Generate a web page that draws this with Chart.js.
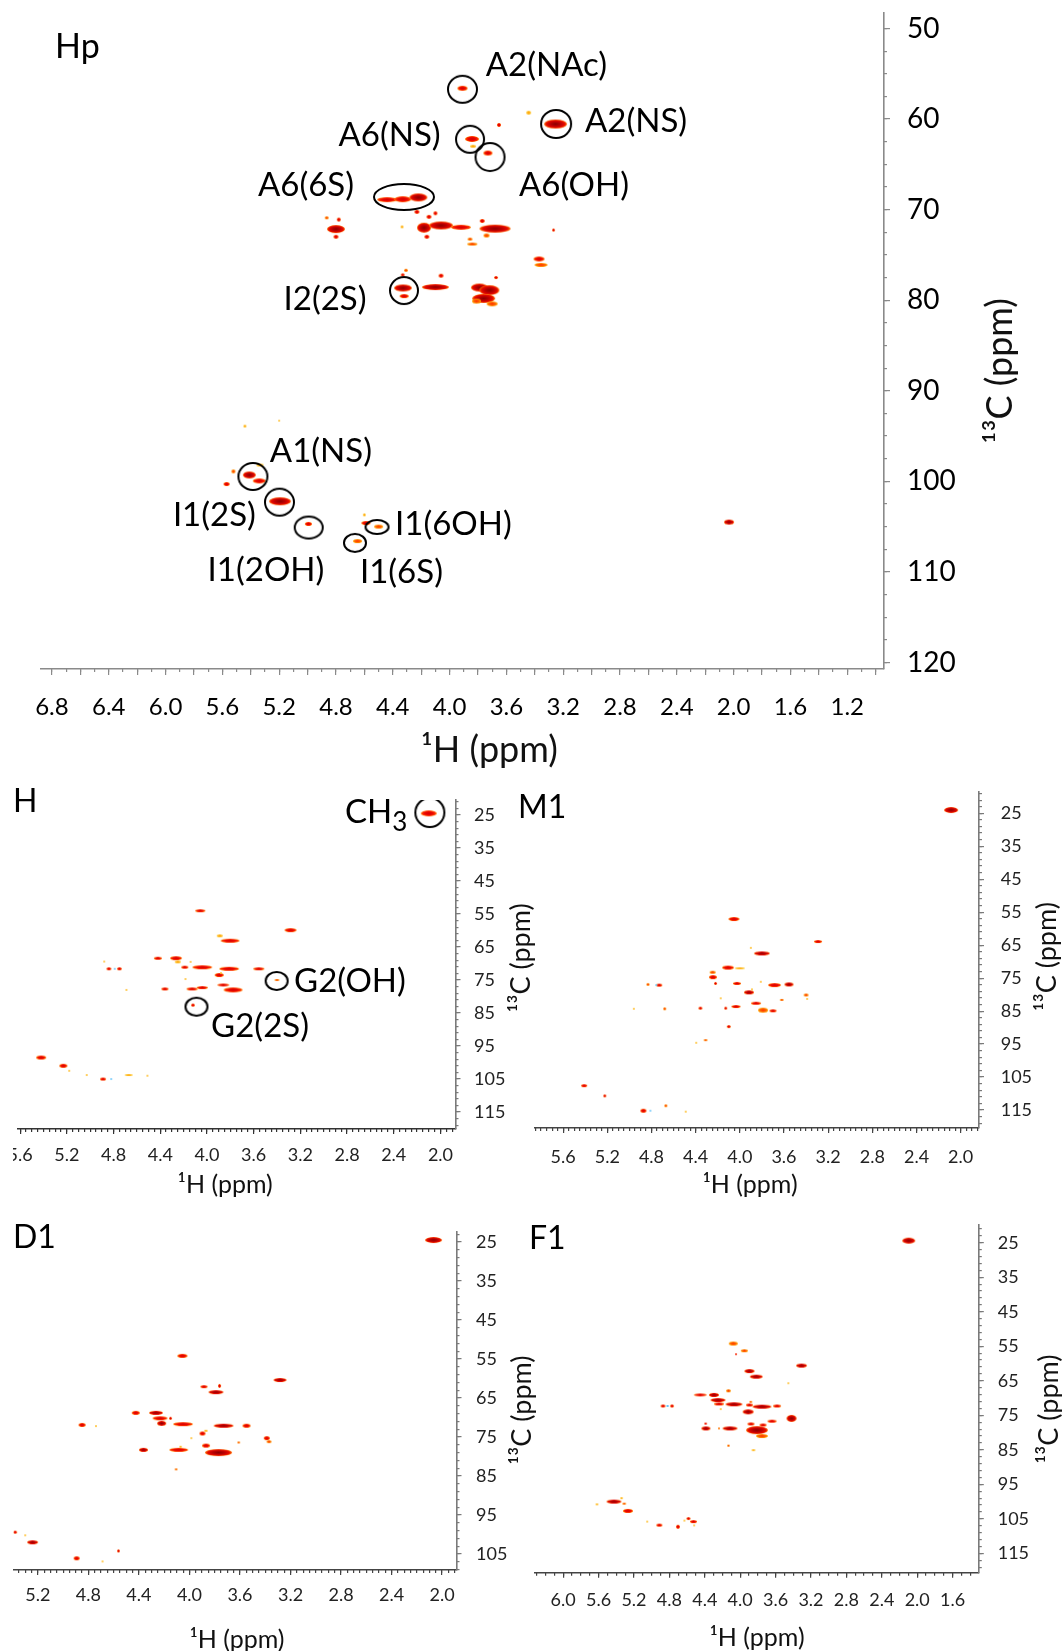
<!DOCTYPE html>
<html>
<head>
<meta charset="utf-8">
<title>HSQC spectra</title>
<script src="https://cdn.jsdelivr.net/npm/chart.js@4.4.1/dist/chart.umd.min.js"></script>
<style>
  html, body { margin: 0; padding: 0; background: #fff; }
  #fig { position: relative; width: 1062px; height: 1651px; overflow: hidden; background: #fff; }
  #fig canvas { position: absolute; }
</style>
</head>
<body>
<div id="fig">
  <canvas id="hp"></canvas>
  <canvas id="h"></canvas>
  <canvas id="m1"></canvas>
  <canvas id="d1"></canvas>
  <canvas id="f1"></canvas>
</div>
<script>
// peaks: [1H ppm, 13C ppm, 1H width ppm, 13C width ppm, level]
// level: 3 strong, 2 medium, 1 weak, 0 trace, -1 negative
const hpPeaks = [
  [3.909, 56.6, 0.07, 0.5, 2], [3.443, 59.3, 0.035, 0.4, 0], [3.652, 60.65, 0.03, 0.4, 2],
  [3.842, 62.2, 0.1, 0.7, 2], [3.835, 63.0, 0.04, 0.35, 0], [3.73, 63.75, 0.06, 0.5, 2],
  [3.254, 60.55, 0.16, 0.95, 3],
  [4.44, 68.9, 0.14, 0.6, 2], [4.33, 68.85, 0.12, 0.65, 2], [4.22, 68.65, 0.13, 0.85, 3],
  [4.80, 72.15, 0.13, 0.9, 3], [4.865, 70.9, 0.025, 0.35, 1], [4.78, 71.1, 0.03, 0.4, 2], [4.80, 73.0, 0.035, 0.45, 2],
  [4.335, 71.9, 0.02, 0.3, 0],
  [4.23, 70.25, 0.035, 0.45, 2], [4.145, 70.8, 0.035, 0.4, 2], [4.10, 70.4, 0.03, 0.4, 2],
  [4.18, 72.0, 0.1, 1.1, 3], [4.16, 73.0, 0.035, 0.45, 2],
  [4.06, 71.75, 0.17, 0.9, 3], [3.92, 71.95, 0.14, 0.6, 2],
  [3.68, 72.1, 0.22, 0.9, 3], [3.77, 71.25, 0.035, 0.4, 2], [3.74, 72.85, 0.04, 0.4, 1],
  [3.856, 73.25, 0.035, 0.35, 1], [3.84, 73.8, 0.07, 0.35, 1], [3.268, 72.25, 0.02, 0.3, 2],
  [3.37, 75.45, 0.08, 0.5, 2], [3.356, 76.1, 0.09, 0.45, 1],
  [4.328, 78.65, 0.13, 0.8, 3], [4.32, 79.55, 0.06, 0.45, 2], [4.307, 76.7, 0.03, 0.35, 1], [4.33, 77.2, 0.03, 0.3, 2],
  [4.10, 78.55, 0.19, 0.65, 3], [4.06, 77.3, 0.035, 0.4, 2],
  [3.79, 78.6, 0.12, 0.9, 3], [3.72, 78.9, 0.14, 1.1, 3], [3.76, 79.8, 0.16, 1.0, 3],
  [3.70, 80.4, 0.08, 0.6, 1], [3.81, 80.1, 0.06, 0.5, 1], [3.673, 77.5, 0.03, 0.35, 2],
  [5.441, 93.9, 0.02, 0.3, 0], [5.20, 93.3, 0.015, 0.25, 0],
  [5.41, 99.3, 0.09, 0.8, 3], [5.34, 99.95, 0.09, 0.6, 2], [5.335, 98.2, 0.05, 0.3, 0],
  [5.522, 98.9, 0.03, 0.4, 1], [5.57, 100.3, 0.04, 0.4, 2],
  [5.194, 102.2, 0.155, 0.9, 3], [4.994, 104.7, 0.05, 0.45, 2],
  [4.589, 104.6, 0.06, 0.45, 2], [4.60, 103.7, 0.02, 0.3, 0],
  [4.50, 105.0, 0.065, 0.4, 1], [4.648, 106.6, 0.06, 0.45, 1],
  [2.032, 104.5, 0.07, 0.55, 3]
];
// rings: [1H ppm, 13C ppm, 1H radius ppm, 13C radius ppm]
const hpRings = [
  [3.909, 56.71, 0.102, 1.51], [3.856, 62.23, 0.097, 1.47], [3.715, 64.19, 0.102, 1.55],
  [3.25, 60.54, 0.106, 1.55], [4.321, 68.6, 0.211, 1.44], [4.321, 78.93, 0.099, 1.49],
  [5.385, 99.46, 0.102, 1.51], [5.198, 102.3, 0.102, 1.47], [4.992, 105.1, 0.099, 1.19],
  [4.511, 105.04, 0.08, 0.77], [4.666, 106.8, 0.077, 0.99]
];
// notes: [text, 1H ppm, 13C ppm, subscript]
const hpNotes = [
  ['A2(NAc)', 3.318, 54.03], ['A2(NS)', 2.687, 60.21], ['A6(NS)', 4.423, 61.81],
  ['A6(OH)', 3.124, 67.28], ['A6(6S)', 5.011, 67.33], ['I2(2S)', 4.877, 79.92],
  ['A1(NS)', 4.906, 96.65], ['I1(2S)', 5.656, 103.8], ['I1(2OH)', 5.293, 109.8],
  ['I1(6OH)', 3.973, 104.71], ['I1(6S)', 4.339, 110.0]
];
const hpXTicks = [6.8, 6.4, 6.0, 5.6, 5.2, 4.8, 4.4, 4.0, 3.6, 3.2, 2.8, 2.4, 2.0, 1.6, 1.2];
const hpYTicks = [50, 60, 70, 80, 90, 100, 110, 120];

const hPeaks = [
  [2.10, 24.5, 0.14, 1.8, 2], [4.057, 54.0, 0.085, 1.0, 2], [3.284, 59.9, 0.1, 1.2, 2],
  [3.89, 61.6, 0.05, 0.8, 0], [3.802, 63.1, 0.16, 1.3, 2], [4.42, 68.4, 0.07, 0.9, 2],
  [4.265, 68.4, 0.1, 1.1, 2], [4.25, 69.5, 0.05, 0.8, 0], [4.19, 71.1, 0.06, 1.0, 2],
  [4.14, 69.5, 0.015, 0.6, 0], [4.04, 71.15, 0.17, 1.2, 2], [3.81, 71.6, 0.17, 1.1, 2],
  [3.556, 71.6, 0.09, 1.0, 2], [4.84, 71.6, 0.04, 0.9, 2], [4.75, 71.6, 0.04, 0.9, 2],
  [4.79, 71.6, 0.02, 0.7, -1], [4.88, 69.4, 0.015, 0.6, 0], [3.895, 73.5, 0.08, 1.1, 2],
  [3.88, 72.9, 0.02, 0.6, 0], [4.184, 74.7, 0.015, 0.6, 0], [3.86, 76.5, 0.1, 1.0, 2],
  [3.776, 78.0, 0.16, 1.6, 2], [4.36, 77.7, 0.06, 1.0, 2], [4.127, 77.7, 0.09, 1.0, 2],
  [4.04, 77.3, 0.09, 1.0, 2], [4.69, 78.0, 0.02, 0.6, 0], [3.40, 75.0, 0.04, 0.7, 1],
  [4.12, 82.6, 0.035, 0.8, 2], [5.42, 98.5, 0.085, 1.2, 2], [5.23, 101.0, 0.07, 1.1, 2],
  [5.18, 102.5, 0.02, 0.6, 0], [5.03, 103.8, 0.015, 0.5, 0], [4.89, 105.0, 0.055, 1.0, 2],
  [4.82, 105.0, 0.015, 0.6, -1], [4.67, 103.8, 0.07, 0.6, 0], [4.51, 104.0, 0.015, 0.5, 0]
];
const hRings = [[2.091, 24.24, 0.123, 4.33], [3.403, 75.3, 0.093, 2.7], [4.09, 83.1, 0.093, 2.8]];
const hNotes = [['CH', 2.55, 24.1, '3'], ['G2(OH)', 2.775, 75.3], ['G2(2S)', 3.545, 89.15]];
const hXTicks = [5.6, 5.2, 4.8, 4.4, 4.0, 3.6, 3.2, 2.8, 2.4, 2.0];

const m1Peaks = [
  [2.087, 24.0, 0.13, 1.8, 3], [4.053, 57.06, 0.1, 1.2, 2], [3.292, 63.9, 0.07, 1.0, 2],
  [3.90, 65.8, 0.015, 0.6, 0], [3.80, 67.5, 0.145, 1.2, 3], [4.107, 71.8, 0.11, 1.2, 2],
  [4.0, 72.0, 0.09, 0.7, 0], [4.246, 73.2, 0.055, 0.9, 1], [4.243, 74.7, 0.075, 1.2, 2],
  [4.22, 76.6, 0.03, 0.9, 2], [4.026, 76.6, 0.075, 1.0, 2], [3.81, 76.1, 0.015, 0.5, 0],
  [3.686, 77.1, 0.12, 1.1, 2], [3.555, 76.9, 0.085, 1.1, 3], [4.832, 76.9, 0.03, 0.8, 1],
  [4.73, 77.1, 0.05, 0.9, 2], [4.757, 77.1, 0.02, 0.7, -1], [3.917, 79.3, 0.095, 1.2, 3],
  [3.89, 78.4, 0.02, 0.6, 0], [3.62, 81.6, 0.04, 0.7, 1], [3.40, 80.1, 0.045, 0.8, 1],
  [3.39, 81.3, 0.02, 0.6, 0], [4.173, 81.1, 0.015, 0.5, 0], [3.853, 82.6, 0.09, 1.0, 2],
  [4.035, 83.6, 0.08, 1.0, 2], [3.79, 84.7, 0.09, 1.4, 1], [3.70, 84.9, 0.06, 1.0, 2],
  [4.128, 84.1, 0.03, 0.8, 2], [4.357, 84.1, 0.035, 0.8, 2], [4.68, 84.3, 0.03, 0.8, 1],
  [4.96, 84.3, 0.015, 0.5, 0], [4.10, 89.7, 0.04, 0.9, 2], [4.31, 93.8, 0.04, 0.7, 1],
  [4.395, 94.6, 0.015, 0.5, 0], [5.41, 107.6, 0.055, 0.9, 2], [5.223, 110.7, 0.03, 0.8, 2],
  [4.873, 115.2, 0.055, 1.1, 2], [4.81, 115.2, 0.015, 0.6, -1], [4.67, 113.7, 0.03, 0.8, 1],
  [4.49, 115.5, 0.015, 0.5, 0]
];
const m1XTicks = [5.6, 5.2, 4.8, 4.4, 4.0, 3.6, 3.2, 2.8, 2.4, 2.0];

const d1Peaks = [
  [2.068, 24.5, 0.135, 1.6, 3], [4.056, 54.2, 0.08, 1.0, 2], [3.283, 60.4, 0.1, 1.1, 3],
  [3.885, 62.1, 0.055, 0.8, 2], [3.762, 61.9, 0.02, 0.9, 2], [3.79, 63.5, 0.12, 1.1, 3],
  [4.425, 68.8, 0.06, 0.9, 2], [4.265, 68.8, 0.11, 1.1, 3], [4.233, 70.2, 0.12, 1.0, 2],
  [4.22, 71.5, 0.07, 1.2, 3], [4.15, 70.2, 0.025, 0.7, 2], [4.051, 71.7, 0.16, 1.0, 2],
  [4.85, 71.9, 0.055, 1.0, 2], [4.74, 72.2, 0.015, 0.5, 0], [3.73, 72.1, 0.16, 1.1, 3],
  [3.548, 72.1, 0.06, 0.9, 2], [3.897, 74.1, 0.045, 1.0, 2], [3.87, 73.4, 0.03, 0.6, 0],
  [3.985, 75.3, 0.015, 0.5, 0], [3.61, 76.4, 0.02, 0.6, 1], [3.388, 75.3, 0.05, 1.0, 2],
  [3.37, 76.2, 0.04, 0.7, 1], [3.869, 77.2, 0.06, 0.9, 2], [4.364, 78.3, 0.075, 1.1, 3],
  [4.085, 78.3, 0.15, 1.0, 2], [4.07, 77.5, 0.02, 0.5, 0], [3.77, 79.0, 0.21, 1.8, 3],
  [4.106, 83.3, 0.02, 0.6, 1], [5.38, 99.4, 0.03, 0.8, 2], [5.242, 102.0, 0.09, 1.0, 3],
  [4.562, 104.2, 0.025, 0.7, 2], [4.893, 106.1, 0.05, 0.9, 2], [4.688, 106.9, 0.015, 0.5, 0],
  [5.30, 100.2, 0.015, 0.4, 0]
];
const d1XTicks = [5.2, 4.8, 4.4, 4.0, 3.6, 3.2, 2.8, 2.4, 2.0];
const d1YTicks = [25, 35, 45, 55, 65, 75, 85, 95, 105];

const f1Peaks = [
  [2.096, 24.4, 0.15, 1.7, 3], [4.078, 54.2, 0.1, 1.1, 1], [4.047, 57.3, 0.02, 0.7, 2],
  [3.953, 56.3, 0.08, 0.9, 1], [3.307, 60.6, 0.125, 1.3, 3], [3.895, 62.2, 0.11, 1.2, 3],
  [3.818, 63.8, 0.15, 1.3, 3], [3.456, 65.7, 0.015, 0.5, 0], [4.132, 67.9, 0.06, 0.8, 1],
  [4.451, 69.1, 0.15, 1.0, 2], [4.296, 69.1, 0.11, 1.1, 3], [4.25, 70.6, 0.17, 1.1, 3],
  [4.24, 71.7, 0.11, 1.0, 2], [4.07, 71.8, 0.19, 1.2, 3], [3.895, 72.0, 0.08, 1.0, 2],
  [3.88, 71.1, 0.03, 0.6, 1], [3.754, 72.5, 0.21, 1.3, 3], [3.584, 72.3, 0.09, 1.0, 2],
  [4.872, 72.3, 0.06, 1.0, 2], [4.77, 72.3, 0.05, 1.0, 2], [4.82, 72.3, 0.03, 0.7, -1],
  [3.91, 74.0, 0.12, 1.5, 3], [4.22, 73.2, 0.015, 0.5, 0], [3.42, 75.9, 0.11, 2.0, 3],
  [3.64, 76.7, 0.1, 1.0, 2], [4.387, 78.8, 0.1, 1.2, 3], [4.39, 77.4, 0.03, 0.6, 2],
  [4.24, 78.8, 0.015, 0.5, 1], [4.115, 78.8, 0.17, 1.2, 3], [3.81, 79.3, 0.25, 2.3, 3],
  [3.878, 77.5, 0.08, 0.9, 2], [3.742, 77.8, 0.08, 0.9, 2], [3.754, 81.0, 0.13, 1.3, 1],
  [4.132, 83.8, 0.03, 0.7, 1], [3.85, 85.1, 0.05, 0.6, 0], [5.618, 100.8, 0.03, 0.6, 0],
  [5.426, 100.0, 0.17, 1.2, 3], [5.34, 99.0, 0.03, 0.6, 0], [5.31, 100.6, 0.04, 0.7, 1],
  [5.268, 102.7, 0.11, 1.2, 2], [4.913, 106.8, 0.07, 1.0, 2], [4.703, 107.3, 0.045, 1.1, 2],
  [4.584, 104.9, 0.04, 0.9, 2], [4.528, 105.8, 0.08, 1.0, 2], [4.63, 105.5, 0.02, 0.6, 0],
  [4.52, 106.9, 0.02, 0.6, 0], [5.05, 105.8, 0.015, 0.4, 0]
];
const f1XTicks = [6.0, 5.6, 5.2, 4.8, 4.4, 4.0, 3.6, 3.2, 2.8, 2.4, 2.0, 1.6];
const lowYTicks = [25, 35, 45, 55, 65, 75, 85, 95, 105, 115];

const FONT = 'Lato, "Open Sans", sans-serif';

const PALETTE = {
  '-1': [[0, '#2aa8ee'], [1, '#8fd6ff']],
  '0': [[0, '#ff9a00'], [1, '#ffcf40']],
  '1': [[0, '#ff3000'], [0.6, '#ff6200'], [1, '#ffaa00']],
  '2': [[0, '#d00000'], [0.55, '#ee0800'], [0.85, '#ff3a00'], [1, '#ff9400']],
  '3': [[0, '#880000'], [0.45, '#bc0000'], [0.8, '#e80a00'], [1, '#ff7400']]
};

const sprites = {};
function peakSprite(wpx, hpx, lvl) {
  const w = Math.max(2, Math.round(wpx)), h = Math.max(2, Math.round(hpx));
  const key = 'p' + w + 'x' + h + ':' + lvl;
  if (sprites[key]) return sprites[key];
  const c = document.createElement('canvas');
  c.width = w + 2; c.height = h + 2;
  const g = c.getContext('2d');
  g.translate(c.width / 2, c.height / 2);
  g.scale(w / 2, h / 2);
  const grad = g.createRadialGradient(0, 0, 0, 0, 0, 1);
  PALETTE[String(lvl)].forEach(s => grad.addColorStop(s[0], s[1]));
  g.fillStyle = grad;
  g.beginPath(); g.arc(0, 0, 1, 0, Math.PI * 2); g.fill();
  sprites[key] = c;
  return c;
}

function ringSprite(wpx, hpx) {
  const w = Math.round(wpx), h = Math.round(hpx);
  const key = 'r' + w + 'x' + h;
  if (sprites[key]) return sprites[key];
  const c = document.createElement('canvas');
  c.width = w + 4; c.height = h + 4;
  const g = c.getContext('2d');
  g.strokeStyle = '#000'; g.lineWidth = 2;
  g.beginPath(); g.ellipse(c.width / 2, c.height / 2, w / 2, h / 2, 0, 0, Math.PI * 2); g.stroke();
  sprites[key] = c;
  return c;
}

function span(scale, v, d) {
  return Math.abs(scale.getPixelForValue(v + d / 2) - scale.getPixelForValue(v - d / 2));
}

function tickList(start, step, lo, hi) {
  const out = [];
  const n0 = Math.ceil((lo - start) / step - 1e-9), n1 = Math.floor((hi - start) / step + 1e-9);
  for (let n = n0; n <= n1; n++) out.push({ value: +(start + n * step).toFixed(4) });
  return out;
}

// notes, panel name and both axis titles
const textPlugin = {
  id: 'panelText',
  afterDatasetsDraw(chart, args, o) {
    const { ctx, scales: { x, y } } = chart;
    ctx.save();
    ctx.fillStyle = '#000';
    ctx.textBaseline = 'middle';
    ctx.textAlign = 'center';
    ctx.font = o.noteSize + 'px ' + FONT;
    o.notes.forEach(n => {
      const px = x.getPixelForValue(n[1]), py = y.getPixelForValue(n[2]);
      if (!n[3]) { ctx.fillText(n[0], px, py); return; }
      // text with a lowered subscript, e.g. CH3
      const subSize = Math.round(o.noteSize * 0.78);
      const w0 = ctx.measureText(n[0]).width;
      ctx.font = subSize + 'px ' + FONT;
      const w1 = ctx.measureText(n[3]).width;
      const left = px - (w0 + w1) / 2;
      ctx.textAlign = 'left';
      ctx.fillText(n[3], left + w0, py + o.noteSize * 0.32);
      ctx.font = o.noteSize + 'px ' + FONT;
      ctx.fillText(n[0], left, py);
      ctx.textAlign = 'center';
    });
    ctx.textAlign = 'left';
    ctx.font = o.nameSize + 'px ' + FONT;
    ctx.fillText(o.name, o.nameX, o.nameY);
    ctx.fillStyle = '#111';
    ctx.textAlign = 'center';
    ctx.font = o.xTitleSize + 'px ' + FONT;
    ctx.fillText('¹H (ppm)', x.getPixelForValue(o.xTitleAt), o.xTitleY);
    ctx.translate(o.yTitleX, y.getPixelForValue(o.yTitleAt));
    ctx.rotate(-Math.PI / 2);
    ctx.font = o.yTitleSize + 'px ' + FONT;
    ctx.fillText('¹³C (ppm)', 0, 0);
    ctx.restore();
  }
};

const panels = [
  { id: 'hp', name: 'Hp', peaks: hpPeaks, rings: hpRings, notes: hpNotes, xLabels: hpXTicks, yLabels: hpYTicks,
    box: [0, 0, 1062, 770], area: [41, 13, 884, 669], xr: [0.941, 6.877], yr: [48.29, 120.72],
    xMajor: 0.2, xMinor: 0.1, yMinorFrom: 50, yMinor: 2.5,
    xLabelY: 707, xTitleY: 750, xTitleAt: 3.72, yLabelX: 907, yTitleX: 1000, yTitleAt: 87.8, nameXY: [55, 47],
    xTick: 24, yTick: 28, xTitle: 36, yTitle: 36, note: 33, nameSize: 34, len: [6, 3],
    axis: '#8a8a8a', xAxis: '#8a8a8a', tickText: '#000' },
  { id: 'h', name: 'H', peaks: hPeaks, rings: hRings, notes: hNotes, xLabels: hXTicks, yLabels: lowYTicks,
    box: [13, 770, 522, 430], area: [14, 800, 455.5, 1129], xr: [1.871, 5.6185], yr: [20.45, 120.15],
    xMajor: 0.4, xMinor: 0.05, yMinorFrom: 25, yMinor: 2,
    xLabelY: 1155, xTitleY: 1185, xTitleAt: 3.844, yLabelX: 474, yTitleX: 521, yTitleAt: 68.3, nameXY: [13, 802],
    xTick: 18, yTick: 18, xTitle: 25, yTitle: 27, note: 33, nameSize: 32, len: [5, 3],
    axis: '#7a7a7a', xAxis: '#333', tickText: '#222' },
  { id: 'm1', name: 'M1', peaks: m1Peaks, rings: [], notes: [], xLabels: m1XTicks, yLabels: lowYTicks,
    box: [515, 770, 547, 430], area: [535, 792, 979, 1128], xr: [1.834, 5.855], yr: [18.54, 120.45],
    xMajor: 0.4, xMinor: 0.05, yMinorFrom: 25, yMinor: 2,
    xLabelY: 1157, xTitleY: 1185, xTitleAt: 3.908, yLabelX: 1000.7, yTitleX: 1047, yTitleAt: 68.5, nameXY: [518, 808],
    xTick: 18, yTick: 18, xTitle: 25, yTitle: 27, note: 33, nameSize: 32, len: [5, 3],
    axis: '#7a7a7a', xAxis: '#444', tickText: '#222' },
  { id: 'd1', name: 'D1', peaks: d1Peaks, rings: [], notes: [], xLabels: d1XTicks, yLabels: d1YTicks,
    box: [0, 1200, 545, 455], area: [13.5, 1232, 456.5, 1570], xr: [1.886, 5.393], yr: [22.44, 109.1],
    xMajor: 0.4, xMinor: 0.05, yMinorFrom: 25, yMinor: 2,
    xLabelY: 1595, xTitleY: 1640, xTitleAt: 3.624, yLabelX: 476, yTitleX: 522, yTitleAt: 68.1, nameXY: [13, 1238],
    xTick: 18, yTick: 18, xTitle: 25, yTitle: 27, note: 33, nameSize: 32, len: [5, 3],
    axis: '#7a7a7a', xAxis: '#444', tickText: '#222' },
  { id: 'f1', name: 'F1', peaks: f1Peaks, rings: [], notes: [], xLabels: f1XTicks, yLabels: lowYTicks,
    box: [520, 1200, 542, 455], area: [534.4, 1225, 978.8, 1572.7], xr: [1.304, 6.325], yr: [19.87, 120.6],
    xMajor: 0.4, xMinor: 0.1, yMinorFrom: 25, yMinor: 2,
    xLabelY: 1600, xTitleY: 1638, xTitleAt: 3.81, yLabelX: 997.7, yTitleX: 1049, yTitleAt: 73.2, nameXY: [529, 1239],
    xTick: 18, yTick: 18, xTitle: 25, yTitle: 27, note: 33, nameSize: 32, len: [5, 3],
    axis: '#7a7a7a', xAxis: '#444', tickText: '#222' }
];

function makeChart(p) {
  const cv = document.getElementById(p.id);
  const [bl, bt, bw, bh] = p.box;
  const [al, at, ar, ab] = p.area;
  cv.width = bw; cv.height = bh;
  cv.style.left = bl + 'px'; cv.style.top = bt + 'px';

  const xH = p.xTitleY + p.xTitle / 2 - ab;
  const yW = bl + bw - ar;
  const padBottom = Math.max(0, bt + bh - (ab + xH));
  const xPad = p.xLabelY - ab - p.len[0] - p.xTick / 2;
  const yPad = p.yLabelX - ar - p.len[0];
  const isLabel = v => p.xLabels.some(l => Math.abs(l - v) < 1e-6);

  const gridOpts = (len, color) => ({ drawOnChartArea: false, drawTicks: true, tickLength: len, color: color, lineWidth: 1.2 });

  new Chart(cv, {
    type: 'scatter',
    data: {
      datasets: [
        {
          order: 0, xAxisID: 'x', yAxisID: 'y',
          data: p.rings.map(r => ({ x: r[0], y: r[1], rw: r[2], rh: r[3] })),
          pointRadius: 2,
          pointStyle: ctx => {
            const r = ctx.raw;
            if (!r) return 'circle';
            const s = ctx.chart.scales;
            return ringSprite(span(s.x, r.x, 2 * r.rw), span(s.y, r.y, 2 * r.rh));
          }
        },
        {
          order: 1, xAxisID: 'x', yAxisID: 'y',
          data: p.peaks.map(k => ({ x: k[0], y: k[1], w: k[2], h: k[3], lvl: k[4] })),
          pointRadius: 2,
          pointStyle: ctx => {
            const r = ctx.raw;
            if (!r) return 'circle';
            const s = ctx.chart.scales;
            return peakSprite(span(s.x, r.x, r.w), span(s.y, r.y, r.h), r.lvl);
          }
        }
      ]
    },
    options: {
      responsive: false,
      animation: false,
      devicePixelRatio: 1,
      events: [],
      layout: { padding: { left: al - bl, top: at - bt, right: 0, bottom: padBottom } },
      plugins: {
        legend: { display: false },
        tooltip: { enabled: false },
        panelText: {
          notes: p.notes, noteSize: p.note, name: p.name, nameSize: p.nameSize,
          nameX: p.nameXY[0] - bl, nameY: p.nameXY[1] - bt,
          xTitleAt: p.xTitleAt, xTitleY: p.xTitleY - bt, xTitleSize: p.xTitle,
          yTitleX: p.yTitleX - bl, yTitleAt: p.yTitleAt, yTitleSize: p.yTitle
        }
      },
      scales: {
        xm: {
          type: 'linear', position: 'bottom', reverse: true, min: p.xr[0], max: p.xr[1],
          afterBuildTicks: s => { s.ticks = tickList(0, p.xMinor, p.xr[0], p.xr[1]); },
          afterFit: s => { s.height = 0; s.paddingLeft = 0; s.paddingRight = 0; },
          ticks: { display: false },
          border: { display: false },
          grid: gridOpts(p.len[1], p.xAxis)
        },
        x: {
          type: 'linear', position: 'bottom', reverse: true, min: p.xr[0], max: p.xr[1],
          afterBuildTicks: s => { s.ticks = tickList(0, p.xMajor, p.xr[0], p.xr[1]); },
          afterFit: s => { s.height = xH; s.paddingLeft = 0; s.paddingRight = 0; },
          ticks: {
            autoSkip: false, maxRotation: 0, minRotation: 0, padding: xPad, color: p.tickText,
            font: { family: FONT, size: p.xTick, lineHeight: 1 },
            callback: v => isLabel(v) ? v.toFixed(1) : ''
          },
          border: { display: true, color: p.xAxis, width: 1.6 },
          grid: gridOpts(p.len[0], p.xAxis)
        },
        ym: {
          type: 'linear', position: 'right', reverse: true, min: p.yr[0], max: p.yr[1],
          afterBuildTicks: s => { s.ticks = tickList(p.yMinorFrom, p.yMinor, p.yr[0], p.yr[1]); },
          afterFit: s => { s.width = 0; s.paddingTop = 0; s.paddingBottom = 0; },
          ticks: { display: false },
          border: { display: false },
          grid: gridOpts(p.len[1], p.axis)
        },
        y: {
          type: 'linear', position: 'right', reverse: true, min: p.yr[0], max: p.yr[1],
          afterBuildTicks: s => { s.ticks = p.yLabels.map(v => ({ value: v })); },
          afterFit: s => { s.width = yW; s.paddingTop = 0; s.paddingBottom = 0; },
          ticks: {
            autoSkip: false, padding: yPad, color: p.tickText,
            font: { family: FONT, size: p.yTick, lineHeight: 1 },
            callback: v => String(v)
          },
          border: { display: true, color: p.axis, width: 1.6 },
          grid: gridOpts(p.len[0], p.axis)
        }
      }
    },
    plugins: [textPlugin]
  });
}

panels.forEach(makeChart);
</script>
</body>
</html>
